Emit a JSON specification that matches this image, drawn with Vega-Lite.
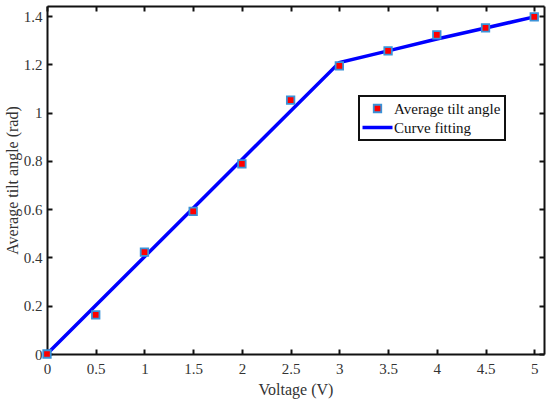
{
  "$schema": "https://vega.github.io/schema/vega-lite/v6.json",
  "autosize": "none",
  "width": 497,
  "height": 348,
  "padding": {"left": 47, "top": 6, "right": 6, "bottom": 47},
  "background": "white",
  "data": {
    "values": [
      {"v": 0, "angle": 0, "series": "Average tilt angle"},
      {"v": 0.5, "angle": 0.162, "series": "Average tilt angle"},
      {"v": 1, "angle": 0.422, "series": "Average tilt angle"},
      {"v": 1.5, "angle": 0.591, "series": "Average tilt angle"},
      {"v": 2, "angle": 0.788, "series": "Average tilt angle"},
      {"v": 2.5, "angle": 1.052, "series": "Average tilt angle"},
      {"v": 3, "angle": 1.194, "series": "Average tilt angle"},
      {"v": 3.5, "angle": 1.256, "series": "Average tilt angle"},
      {"v": 4, "angle": 1.322, "series": "Average tilt angle"},
      {"v": 4.5, "angle": 1.351, "series": "Average tilt angle"},
      {"v": 5, "angle": 1.397, "series": "Average tilt angle"},
      {"v": 0, "angle": 0, "series": "Curve fitting"},
      {"v": 3, "angle": 1.208, "series": "Curve fitting"},
      {"v": 3.5, "angle": 1.256, "series": "Curve fitting"},
      {"v": 4, "angle": 1.305, "series": "Curve fitting"},
      {"v": 4.5, "angle": 1.351, "series": "Curve fitting"},
      {"v": 5, "angle": 1.397, "series": "Curve fitting"}
    ]
  },
  "config": {
    "view": {"stroke": null},
    "font": "Liberation Serif",
    "legend": {"strokeWidth": 2},
    "axis": {
      "domainColor": "#111",
      "domainWidth": 2,
      "tickColor": "#111",
      "tickWidth": 2,
      "tickSize": -5,
      "grid": false,
      "labelFlush": false,
      "labelOverlap": false,
      "labelFont": "Liberation Serif",
      "labelFontSize": 15,
      "labelColor": "#333",
      "titleFont": "Liberation Serif",
      "titleFontSize": 16,
      "titleFontWeight": "normal",
      "titleColor": "#333"
    }
  },
  "layer": [
    {
      "transform": [{"filter": "datum.series == 'Curve fitting'"}],
      "mark": {"type": "line"},
      "encoding": {
        "x": {
          "field": "v", "type": "quantitative",
          "scale": {"domain": [0, 5.1], "nice": false, "zero": false},
          "axis": {"orient": "bottom", "title": "Voltage (V)", "values": [0, 0.5, 1, 1.5, 2, 2.5, 3, 3.5, 4, 4.5, 5], "format": "~g", "labelPadding": 12, "titlePadding": 5}
        },
        "y": {
          "field": "angle", "type": "quantitative",
          "scale": {"domain": [0, 1.442], "nice": false, "zero": false},
          "axis": {"orient": "left", "title": "Average tilt angle (rad)", "values": [0, 0.2, 0.4, 0.6, 0.8, 1, 1.2, 1.4], "format": "~g", "labelPadding": 10, "titlePadding": 3}
        },
        "stroke": {
          "field": "series", "type": "nominal",
          "scale": {"domain": ["Average tilt angle", "Curve fitting"], "range": ["#3a92d8", "#0000ff"]},
          "legend": {
            "title": null,
            "orient": "none",
            "legendX": 312,
            "legendY": 90,
            "strokeColor": "#111",
            "fillColor": "white",
            "padding": 4,
            "symbolSize": 225,
            "symbolOffset": 5,
            "labelFont": "Liberation Serif",
            "labelFontSize": 15,
            "labelColor": "#111",
            "labelOffset": 7,
            "rowPadding": 1
          }
        },
        "strokeWidth": {
          "field": "series", "type": "nominal",
          "scale": {"domain": ["Average tilt angle", "Curve fitting"], "range": [1.8, 3.5]}
        }
      }
    },
    {
      "transform": [{"filter": "datum.series == 'Average tilt angle'"}],
      "mark": {"type": "point", "filled": true, "size": 225, "opacity": 1},
      "encoding": {
        "x": {
          "field": "v", "type": "quantitative",
          "axis": {"orient": "top", "title": null, "labels": false, "values": [0, 0.5, 1, 1.5, 2, 2.5, 3, 3.5, 4, 4.5, 5]}
        },
        "y": {
          "field": "angle", "type": "quantitative",
          "axis": {"orient": "right", "title": null, "labels": false, "values": [0, 0.2, 0.4, 0.6, 0.8, 1, 1.2, 1.4]}
        },
        "shape": {
          "field": "series", "type": "nominal",
          "scale": {"domain": ["Average tilt angle", "Curve fitting"], "range": ["M-0.5,-0.5H0.5V0.5H-0.5Z", "M-2,0H2"]}
        },
        "fill": {
          "field": "series", "type": "nominal",
          "scale": {"domain": ["Average tilt angle", "Curve fitting"], "range": ["#ff0000", "transparent"]}
        },
        "stroke": {"field": "series", "type": "nominal"},
        "strokeWidth": {"field": "series", "type": "nominal"}
      }
    }
  ],
  "resolve": {"axis": {"x": "independent", "y": "independent"}}
}
